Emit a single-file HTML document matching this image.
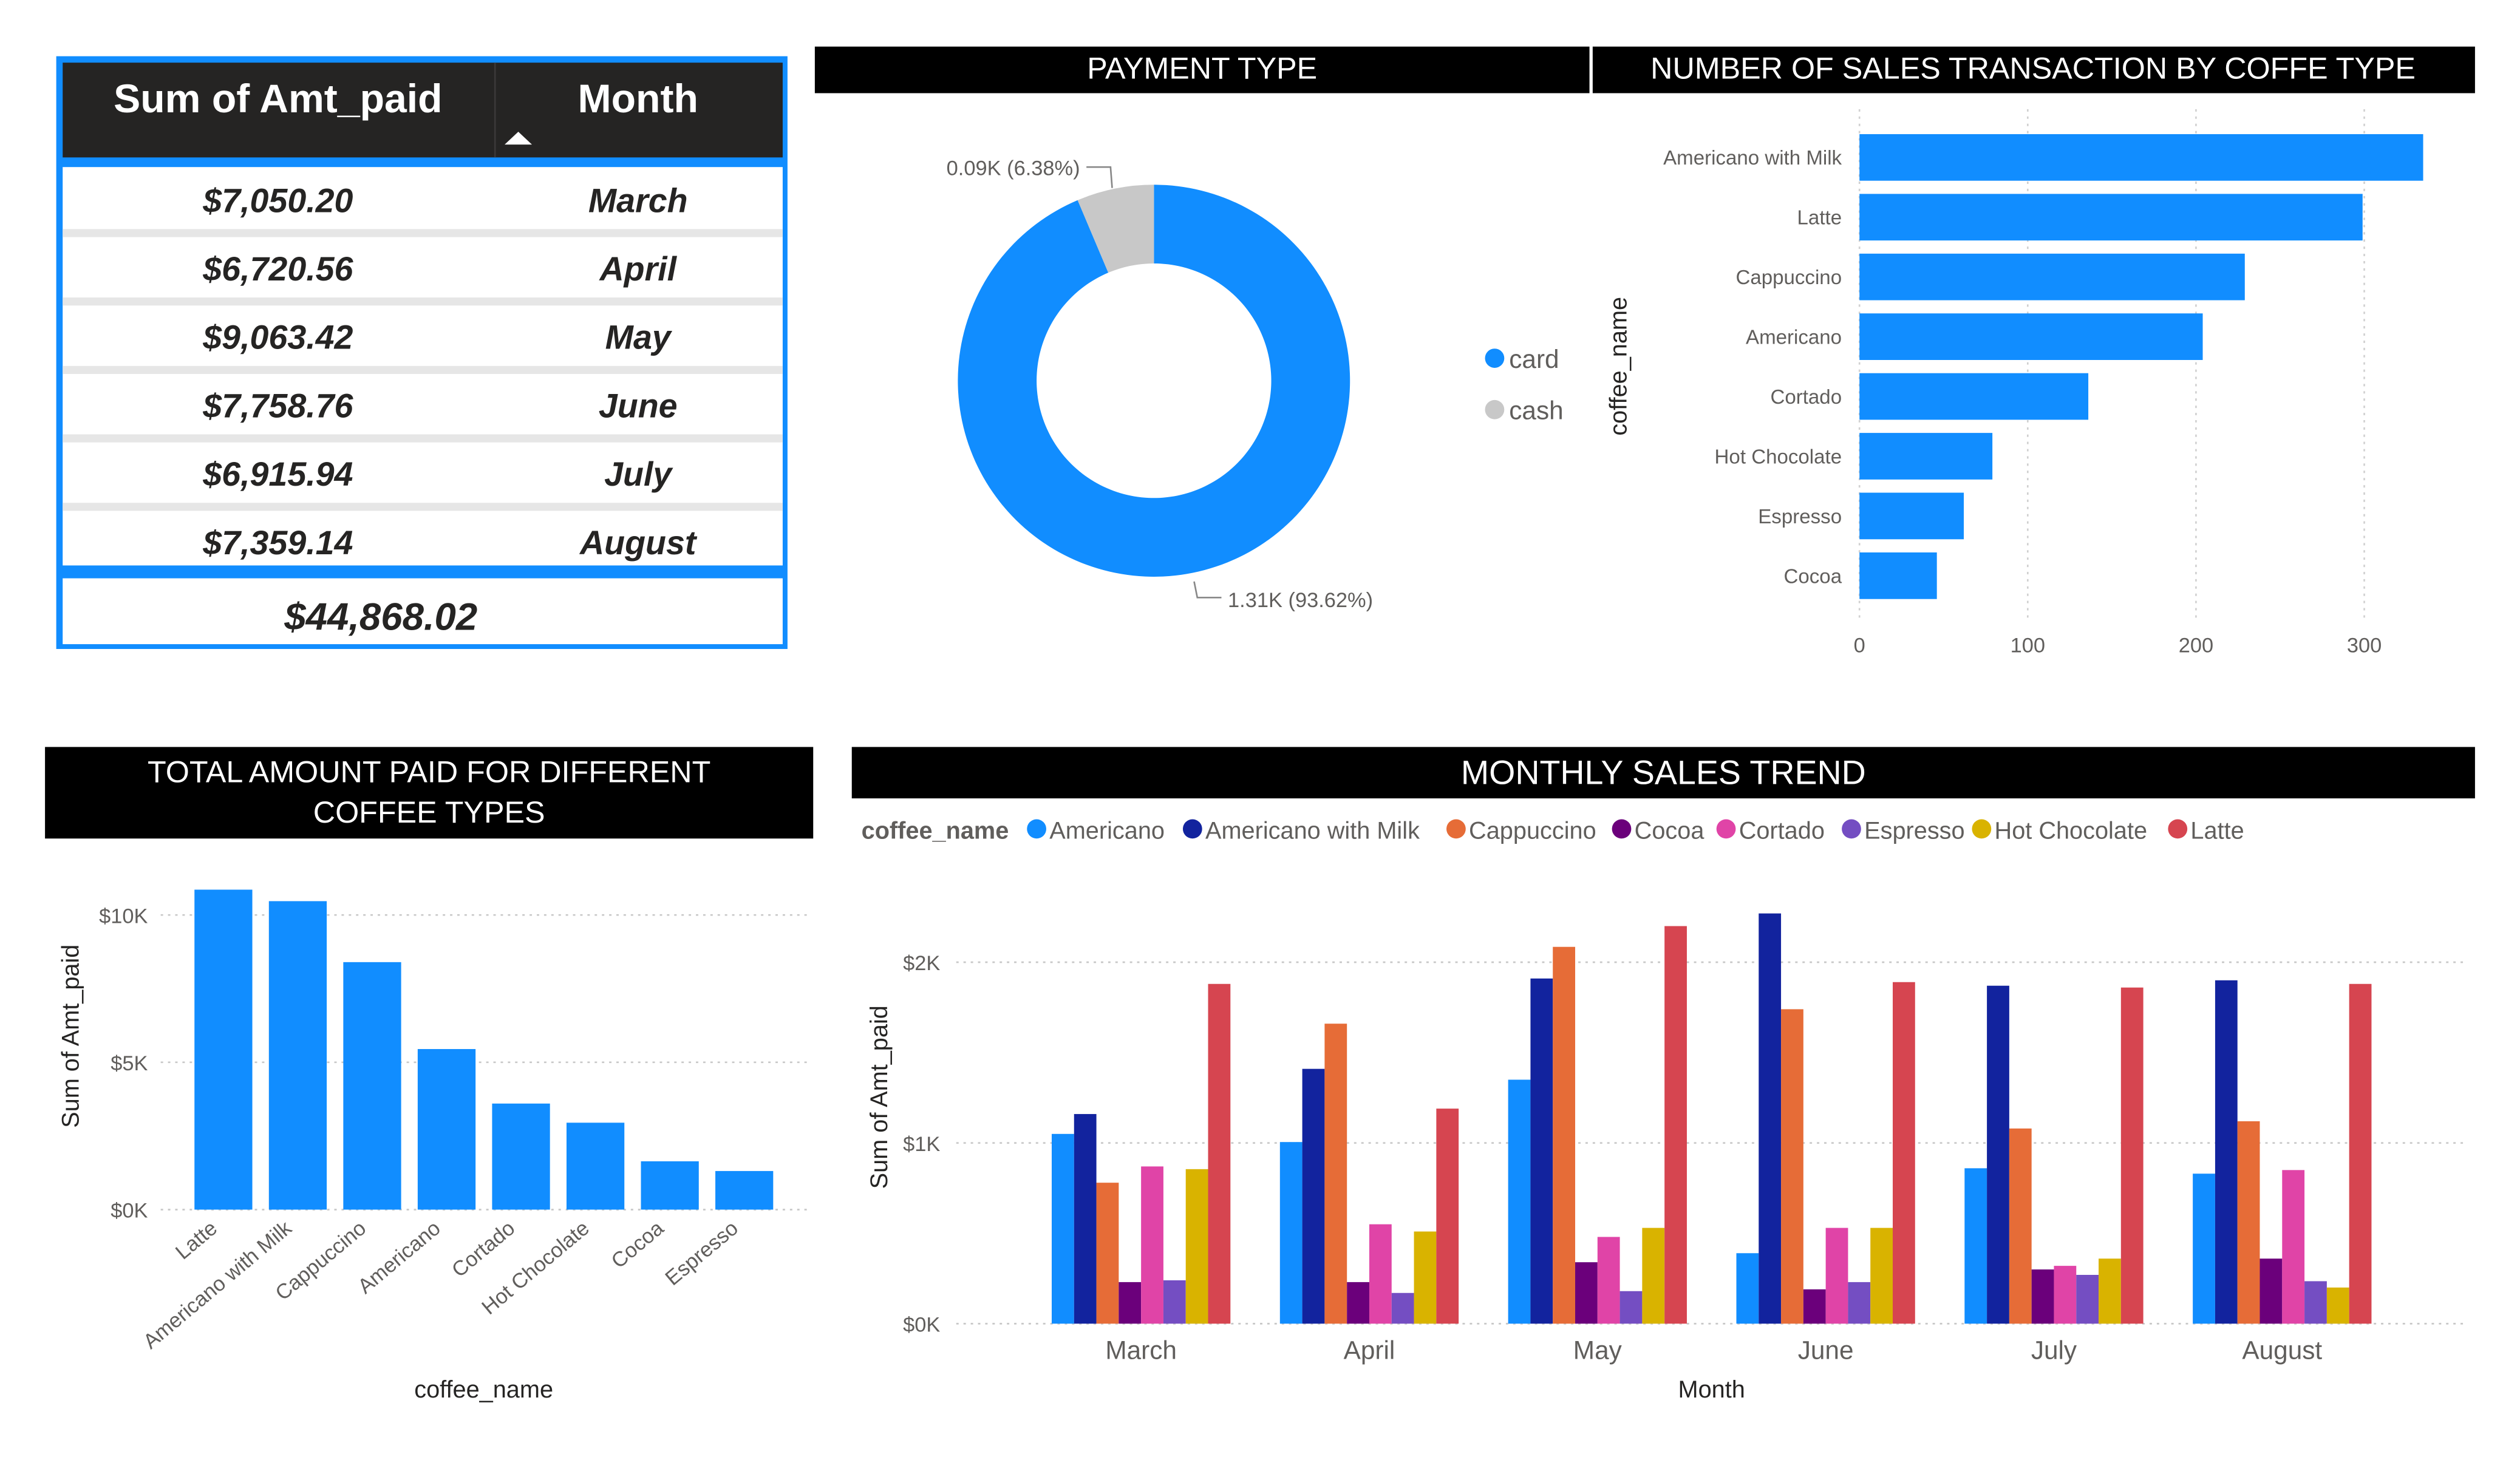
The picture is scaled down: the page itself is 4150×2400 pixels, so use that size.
<!DOCTYPE html>
<html><head><meta charset="utf-8"><style>
html,body{margin:0;padding:0;background:#fff;}
svg{display:block;font-family:"Liberation Sans",sans-serif;}
</style></head><body>
<svg id="root" width="4150" height="2400" viewBox="0 0 1568 907" preserveAspectRatio="none" xmlns="http://www.w3.org/2000/svg">
<g>
<rect x="35" y="35" width="455" height="369" fill="#118DFF"/>
<rect x="39" y="39" width="448" height="59" fill="#252423"/>
<line x1="308" y1="39" x2="308" y2="98" stroke="#3a3938" stroke-width="1"/>
<text x="173" y="70" font-size="25" font-weight="bold" fill="#fff" text-anchor="middle">Sum of Amt_paid</text>
<text x="397" y="70" font-size="25" font-weight="bold" fill="#fff" text-anchor="middle">Month</text>
<polygon points="314,90 331,90 322.5,82" fill="#fff"/>
<rect x="39" y="104" width="448" height="248" fill="#fff"/>
<g id="tablerows"></g>
<rect x="39" y="360" width="448" height="41" fill="#fff"/>
<text x="237" y="392" font-size="24" font-weight="bold" font-style="italic" fill="#252423" text-anchor="middle">$44,868.02</text>
</g>
<rect x="507" y="29" width="482" height="29" fill="#000"/>
<text x="748" y="49" font-size="19" fill="#fff" text-anchor="middle">PAYMENT TYPE</text>
<g id="donut"></g>
<rect x="991" y="29" width="549" height="29" fill="#000"/>
<text x="1265" y="49" font-size="19" fill="#fff" text-anchor="middle">NUMBER OF SALES TRANSACTION BY COFFE TYPE</text>
<g id="hbar"></g>
<rect x="28" y="465" width="478" height="57" fill="#000"/>
<text x="267" y="487" font-size="19" fill="#fff" text-anchor="middle">TOTAL AMOUNT PAID FOR DIFFERENT</text>
<text x="267" y="512" font-size="19" fill="#fff" text-anchor="middle">COFFEE TYPES</text>
<g id="vbar"></g>
<rect x="530" y="465" width="1010" height="32" fill="#000"/>
<text x="1035" y="488" font-size="21" fill="#fff" text-anchor="middle">MONTHLY SALES TREND</text>
<g id="mbar"></g>
</svg>
<script>
const tableAmounts=["$7,050.20","$6,720.56","$9,063.42","$7,758.76","$6,915.94","$7,359.14"];
const tableMonths=["March","April","May","June","July","August"];
const payLabels=["card","cash"];
const payValues=[1310,89];
const payText=["1.31K (93.62%)","0.09K (6.38%)"];
const countCats=["Americano with Milk","Latte","Cappuccino","Americano","Cortado","Hot Chocolate","Espresso","Cocoa"];
const countVals=[335,299,229,204,136,79,62,46];
const countTicks=[0,100,200,300];
const amtCats=["Latte","Americano with Milk","Cappuccino","Americano","Cortado","Hot Chocolate","Cocoa","Espresso"];
const amtVals=[10860,10470,8400,5450,3600,2950,1640,1310];
const amtTicks=[0,5000,10000];
const amtTickLabels=["$0K","$5K","$10K"];
const months=["March","April","May","June","July","August"];
const series=["Americano","Americano with Milk","Cappuccino","Cocoa","Cortado","Espresso","Hot Chocolate","Latte"];
const sAmericano=[1050,1005,1350,390,860,830];
const sAwM=[1160,1410,1910,2270,1870,1900];
const sCapp=[780,1660,2085,1740,1080,1120];
const sCocoa=[230,230,340,190,300,360];
const sCortado=[870,550,480,530,320,850];
const sEspresso=[240,170,180,230,270,235];
const sHotChoc=[855,510,530,530,360,200];
const sLatte=[1880,1190,2200,1890,1860,1880];
const seriesVals=[sAmericano,sAwM,sCapp,sCocoa,sCortado,sEspresso,sHotChoc,sLatte];
const mTicks=[0,1000,2000];
const mTickLabels=["$0K","$1K","$2K"];
const colors=["#118DFF","#12239E","#E66C37","#6B007B","#E044A7","#744EC2","#D9B300","#D64550"];
const NS="http://www.w3.org/2000/svg";
function mk(parent,tag,attrs,text){const e=document.createElementNS(NS,tag);for(const k in attrs)e.setAttribute(k,attrs[k]);if(text!==undefined)e.textContent=text;parent.appendChild(e);return e;}

const tr=document.getElementById('tablerows');
tableAmounts.forEach((a,i)=>{
 const y=104+i*42.6;
 if(i>0){const sep=mk(tr,'rect',{x:39,y:y-4,width:448,height:5,fill:'#e6e6e6'});
 
 }
 const t1=mk(tr,'text',{x:173,y:y+28,'font-size':21,'font-weight':'bold','font-style':'italic',fill:'#252423','text-anchor':'middle'},a);
 
 
 const t2=mk(tr,'text',{x:397,y:y+28,'font-size':21,'font-weight':'bold','font-style':'italic',fill:'#252423','text-anchor':'middle'},tableMonths[i]);
 
 
});

(function(){
 const g=document.getElementById('donut');
 const cx=718,cy=237,R=122,r=73,tot=payValues.reduce((a,b)=>a+b,0);
 const pcol=["#118DFF","#C8C8C8"];
 let a0=0;
 payValues.forEach((v,i)=>{
  const a1=a0+v/tot*2*Math.PI;
  const p=(a,rr)=>[cx+rr*Math.sin(a),cy-rr*Math.cos(a)];
  const [x0,y0]=p(a0,R),[x1,y1]=p(a1,R),[x2,y2]=p(a1,r),[x3,y3]=p(a0,r);
  const lg=(a1-a0)>Math.PI?1:0;
  const s=mk(g,'path',{d:`M${x0},${y0}A${R},${R} 0 ${lg} 1 ${x1},${y1}L${x2},${y2}A${r},${r} 0 ${lg} 0 ${x3},${y3}Z`,fill:pcol[i]});
  
  
  a0=a1;
 });
 mk(g,'polyline',{points:'676,104 691,104 692,117',fill:'none',stroke:'#888','stroke-width':1});
 const l1=mk(g,'text',{x:672,y:109,'font-size':13,fill:'#605E5C','text-anchor':'end'},payText[1]);
 
 
 mk(g,'polyline',{points:'743,362 745,372 760,372',fill:'none',stroke:'#888','stroke-width':1});
 const l2=mk(g,'text',{x:764,y:378,'font-size':13,fill:'#605E5C'},payText[0]);
 
 
 payLabels.forEach((n,i)=>{
  const y=223+i*32;
  const c=mk(g,'circle',{cx:930,cy:y,r:6,fill:pcol[i]});
  
  
  const t=mk(g,'text',{x:939,y:y+6,'font-size':16,fill:'#605E5C'},n);
  
  
 });
})();

(function(){
 const g=document.getElementById('hbar');
 const x0=1157,sx=v=>x0+v*1.047;
 countTicks.forEach(t=>{
  mk(g,'line',{x1:sx(t),y1:68,x2:sx(t),y2:386,stroke:'#d0d0d0','stroke-dasharray':'1.5,3','stroke-width':1});
  const tl=mk(g,'text',{x:sx(t),y:406,'font-size':13,fill:'#605E5C','text-anchor':'middle'},String(t));
  
  
 });
 countCats.forEach((c,i)=>{
  const yc=98+i*37.2;
  const b=mk(g,'rect',{x:x0,y:yc-14.5,width:sx(countVals[i])-x0,height:29,fill:'#118DFF'});
  
  
  const t=mk(g,'text',{x:1146,y:yc+4.5,'font-size':12.5,fill:'#605E5C','text-anchor':'end'},c);
  
  
 });
 const at=mk(g,'text',{x:0,y:0,'font-size':15,fill:'#252423','text-anchor':'middle',transform:'translate(1012,228) rotate(-90)'},'coffee_name');
 
 
})();

(function(){
 const g=document.getElementById('vbar');
 const y0=753,sy=v=>y0-v*0.01834;
 amtTicks.forEach((t,i)=>{
  mk(g,'line',{x1:100,y1:sy(t),x2:502,y2:sy(t),stroke:'#c8c8c8','stroke-dasharray':'1.5,3','stroke-width':1});
  const tl=mk(g,'text',{x:92,y:sy(t)+5,'font-size':13,fill:'#605E5C','text-anchor':'end'},amtTickLabels[i]);
  
  
 });
 amtCats.forEach((c,i)=>{
  const x=121+i*46.3;
  const b=mk(g,'rect',{x:x,y:sy(amtVals[i]),width:36,height:y0-sy(amtVals[i]),fill:'#118DFF'});
  
  
  const t=mk(g,'text',{x:0,y:0,'font-size':13,fill:'#605E5C','text-anchor':'end',transform:`translate(${x+15},${766}) rotate(-40)`},c);
  
  
 });
 const yt=mk(g,'text',{x:0,y:0,'font-size':15,fill:'#252423','text-anchor':'middle',transform:'translate(49,645) rotate(-90)'},'Sum of Amt_paid');
 
 
 const xt=mk(g,'text',{x:301,y:870,'font-size':15,fill:'#252423','text-anchor':'middle'},'coffee_name');
 
 
})();

(function(){
 const g=document.getElementById('mbar');
 const y0=824,sy=v=>y0-v*0.1125;
 const lt=mk(g,'text',{x:536,y:522,'font-size':15,'font-weight':'bold',fill:'#605E5C'},'coffee_name');
 
 
 const lx=[645,742,906,1009,1074,1152,1233,1355];
 series.forEach((s,i)=>{
  const c=mk(g,'circle',{cx:lx[i],cy:516,r:6,fill:colors[i]});
  
  
  const t=mk(g,'text',{x:lx[i]+8,y:522,'font-size':15,fill:'#605E5C'},s);
  
  
 });
 mTicks.forEach((t,i)=>{
  mk(g,'line',{x1:595,y1:sy(t),x2:1535,y2:sy(t),stroke:'#c8c8c8','stroke-dasharray':'1.5,3','stroke-width':1});
  const tl=mk(g,'text',{x:585,y:sy(t)+5,'font-size':13,fill:'#605E5C','text-anchor':'end'},mTickLabels[i]);
  
  
 });
 months.forEach((m,mi)=>{
  const cx=710+mi*142,bw=13.9,start=cx-bw*4;
  seriesVals.forEach((arr,si)=>{
   const b=mk(g,'rect',{x:start+si*bw,y:sy(arr[mi]),width:bw,height:y0-sy(arr[mi]),fill:colors[si]});
   
   
  });
  const t=mk(g,'text',{x:cx,y:846,'font-size':16,fill:'#605E5C','text-anchor':'middle'},m);
  
  
 });
 const yt=mk(g,'text',{x:0,y:0,'font-size':15,fill:'#252423','text-anchor':'middle',transform:'translate(552,683) rotate(-90)'},'Sum of Amt_paid');
 
 
 const xt=mk(g,'text',{x:1065,y:870,'font-size':15,fill:'#252423','text-anchor':'middle'},'Month');
 
 
})();
</script>
</body></html>
